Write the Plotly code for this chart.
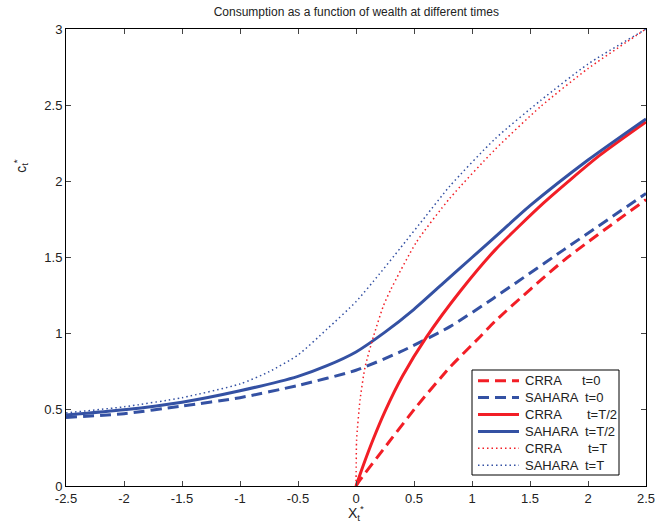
import plotly.graph_objects as go

# ---- data ----
crra_t0_x = [0, 0.035, 0.235, 0.52, 0.81, 1.07, 1.21, 1.79, 2.5]
crra_t0_y = [0, 0.04, 0.24, 0.52, 0.78, 0.98, 1.09, 1.48, 1.88]

sahara_t0_x = [-2.5, -2, -1.5, -1, -0.5, 0, 0.38, 0.81, 1.18, 1.79, 2.5]
sahara_t0_y = [0.45, 0.475, 0.525, 0.58, 0.66, 0.76, 0.88, 1.046, 1.23, 1.55, 1.92]

crra_th_x = [0, 0.06, 0.15, 0.25, 0.4, 0.61, 0.9, 1.2, 1.62, 2.1, 2.5]
crra_th_y = [0, 0.13, 0.31, 0.49, 0.72, 0.98, 1.28, 1.55, 1.86, 2.17, 2.39]

sahara_th_x = [-2.5, -2, -1.5, -1, -0.5, -0.25, 0, 0.25, 0.5, 0.75, 1.0, 1.25, 1.5, 2.0, 2.5]
sahara_th_y = [0.466, 0.50, 0.55, 0.625, 0.72, 0.79, 0.88, 1.01, 1.16, 1.33, 1.50, 1.67, 1.84, 2.14, 2.41]

crra_T_x = [0, 0.002, 0.005, 0.035, 0.078, 0.15, 0.235, 0.3, 0.52, 0.81, 1.2, 1.59, 2, 2.5]
crra_T_y = [0, 0.15, 0.30, 0.565, 0.78, 0.98, 1.18, 1.29, 1.60, 1.89, 2.21, 2.49, 2.74, 3.0]

sahara_T_x = [-2.5, -2, -1.5, -1, -0.75, -0.5, -0.25, 0, 0.2, 0.38, 0.6, 0.81, 1.2, 1.59, 2, 2.5]
sahara_T_y = [0.48, 0.52, 0.58, 0.67, 0.75, 0.86, 1.03, 1.21, 1.39, 1.56, 1.77, 1.97, 2.28, 2.53, 2.77, 3.0]

legend_models = ["CRRA", "SAHARA", "CRRA", "SAHARA", "CRRA", "SAHARA"]
legend_times = ["t=0", "t=0", "t=T/2", "t=T/2", "t=T", "t=T"]

x_ticks = [-2.5, -2, -1.5, -1, -0.5, 0, 0.5, 1, 1.5, 2, 2.5]
x_tick_labels = ["-2.5", "-2", "-1.5", "-1", "-0.5", "0", "0.5", "1", "1.5", "2", "2.5"]
y_ticks = [0, 0.5, 1, 1.5, 2, 2.5, 3]
y_tick_labels = ["0", "0.5", "1", "1.5", "2", "2.5", "3"]

RED = "#F21E26"
BLUE = "#3451A3"
FONT = "Liberation Sans, Arial, sans-serif"
TXT = "#222"

series = [
    (crra_t0_x, crra_t0_y, RED, "11px,6px", 3),
    (sahara_t0_x, sahara_t0_y, BLUE, "11px,6px", 3),
    (crra_th_x, crra_th_y, RED, "solid", 3),
    (sahara_th_x, sahara_th_y, BLUE, "solid", 3),
    (crra_T_x, crra_T_y, RED, "1.5px,3px", 1.5),
    (sahara_T_x, sahara_T_y, BLUE, "1.5px,3px", 1.5),
]

# plot area in pixels (for placing the hand-drawn legend box)
L, R, T, B = 66, 646, 29, 486
def px_x(p):
    return (p - L) / (R - L)
def px_y(p):
    return (B - p) / (B - T)

fig = go.Figure()
for (xs, ys, col, dash, w), m, t in zip(series, legend_models, legend_times):
    fig.add_trace(go.Scatter(
        x=xs, y=ys, mode="lines", name=m + " " + t, showlegend=False,
        line=dict(color=col, dash=dash, width=w, shape="spline", smoothing=0.6),
    ))

shapes = [dict(type="rect", xref="paper", yref="paper",
               x0=px_x(472), x1=px_x(619), y0=px_y(475), y1=px_y(370),
               line=dict(color="black", width=1), fillcolor="white", layer="above")]
annotations = []
row_y = [380.7, 397.6, 414.5, 431.4, 448.3, 465.2]
t_x = [580.7, 584, 585.7, 584, 586.7, 584]
for (xs, ys, col, dash, w), m, t, ry, tx in zip(series, legend_models, legend_times, row_y, t_x):
    shapes.append(dict(type="line", xref="paper", yref="paper",
                       x0=px_x(478), x1=px_x(519), y0=px_y(ry), y1=px_y(ry),
                       line=dict(color=col, width=w, dash=dash), layer="above"))
    annotations.append(dict(text=m, xref="paper", yref="paper", x=px_x(522.5), y=px_y(ry),
                            xanchor="left", yanchor="middle", showarrow=False,
                            font=dict(family=FONT, size=13, color=TXT)))
    annotations.append(dict(text=t, xref="paper", yref="paper", x=px_x(tx - 1), y=px_y(ry),
                            xanchor="left", yanchor="middle", showarrow=False,
                            font=dict(family=FONT, size=13, color=TXT)))

annotations += [
    dict(text="X<sub>t</sub><sup>*</sup>", xref="paper", yref="paper",
         x=0.5, y=-0.06, xanchor="center", yanchor="middle", showarrow=False,
         font=dict(family=FONT, size=14, color=TXT)),
    dict(text="c<sub>t</sub><sup>*</sup>", xref="paper", yref="paper",
         x=-0.078, y=0.70, xanchor="center", yanchor="middle", showarrow=False,
         textangle=-90, font=dict(family=FONT, size=14, color=TXT)),
]

axis_common = dict(
    showline=True, linecolor="black", linewidth=1, mirror="ticks",
    ticks="inside", ticklen=5, tickcolor="#444", showgrid=False, zeroline=False,
    tickfont=dict(family=FONT, size=13, color=TXT),
)

fig.update_layout(
    width=666, height=528,
    margin=dict(l=L, r=666 - R, t=T, b=528 - B),
    plot_bgcolor="white", paper_bgcolor="white",
    font=dict(family=FONT, size=13, color=TXT),
    title=dict(text="Consumption as a function of wealth at different times",
               x=0.535, xanchor="center", y=0.977, yanchor="middle",
               font=dict(family=FONT, size=12, color=TXT)),
    xaxis=dict(range=[-2.5, 2.5], tickvals=x_ticks, ticktext=x_tick_labels, **axis_common),
    yaxis=dict(range=[0, 3], tickvals=y_ticks, ticktext=y_tick_labels, **axis_common),
    showlegend=False,
    shapes=shapes,
    annotations=annotations,
)

fig.write_html("out.html")
